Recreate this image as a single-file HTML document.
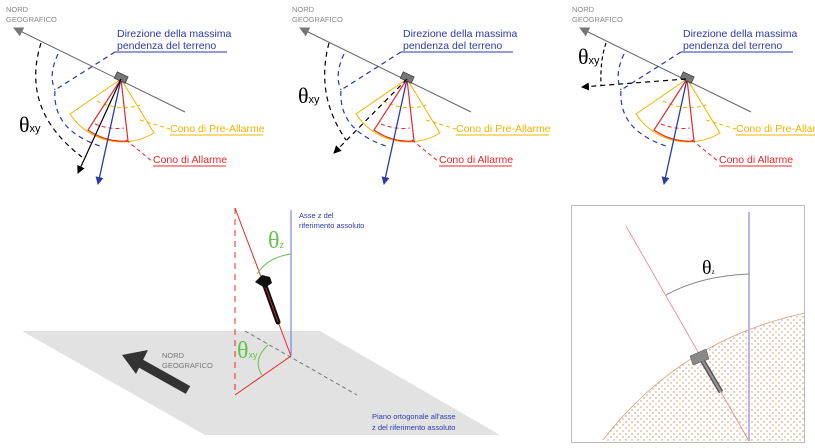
<!DOCTYPE html>
<html><head><meta charset="utf-8"><style>
body{margin:0;background:#fff;}
svg{display:block;font-family:"Liberation Sans",sans-serif;}
</style></head><body>
<svg width="815" height="448" viewBox="0 0 815 448" xmlns="http://www.w3.org/2000/svg">
<defs>
<marker id="ab" markerWidth="8" markerHeight="8" refX="7" refY="4" orient="auto" markerUnits="userSpaceOnUse"><path d="M0,0 L8,4 L0,8 z" fill="#2a3aa8"/></marker>
<marker id="ak" markerWidth="8" markerHeight="8" refX="7" refY="4" orient="auto" markerUnits="userSpaceOnUse"><path d="M0,0 L8,4 L0,8 z" fill="#000"/></marker>
<marker id="ag" markerWidth="10" markerHeight="10" refX="9" refY="5" orient="auto" markerUnits="userSpaceOnUse"><path d="M0,0 L10,5 L0,10 z" fill="#777"/></marker>
<pattern id="dots" width="6" height="6" patternUnits="userSpaceOnUse"><circle cx="2" cy="2" r="0.7" fill="#d08a50"/><circle cx="5" cy="5" r="0.7" fill="#d08a50"/></pattern>
<g id="common">
<text x="6" y="12" font-size="7.5" fill="#888">NORD</text>
<text x="6" y="22" font-size="7.5" fill="#888">GEOGRAFICO</text>
<line x1="185" y1="112" x2="14" y2="28" stroke="#666" stroke-width="1" marker-end="url(#ag)"/>
<text x="117" y="37" font-size="10.5" fill="#2a3aa8">Direzione della massima</text>
<text x="117" y="49" font-size="10.5" fill="#2a3aa8">pendenza del terreno</text>
<line x1="115" y1="52" x2="227" y2="52" stroke="#2a3aa8"/>
<path d="M121,79 L70,114 A62,62 0 0 0 154,133 Z" fill="none" stroke="#f2b400" stroke-width="1"/>
<path d="M97,101 Q120,112 140,105" fill="none" stroke="#f2b400" stroke-dasharray="4,3"/>
<line x1="140" y1="120" x2="170" y2="129" stroke="#f2b400" stroke-dasharray="4,3"/>
<text x="170" y="132" font-size="10.5" fill="#f2b400">Cono di Pre-Allarme</text>
<line x1="170" y1="135" x2="263" y2="135" stroke="#f2b400"/>
<path d="M121,79 L88,130 A62,62 0 0 0 128,141 Z" fill="none" stroke="#e8282a" stroke-width="1.2"/>
<path d="M95,124 Q110,130 124,128" fill="none" stroke="#e8282a" stroke-dasharray="4,3"/>
<line x1="126" y1="140" x2="153" y2="162" stroke="#e8282a" stroke-dasharray="4,3"/>
<text x="153" y="163" font-size="10.5" fill="#e8282a">Cono di Allarme</text>
<line x1="153" y1="166" x2="226" y2="166" stroke="#e8282a"/>
<line x1="121" y1="79" x2="98" y2="184" stroke="#2a3aa8" stroke-width="1.3" marker-end="url(#ab)"/>
<rect x="115" y="74" width="12" height="7" fill="#777" stroke="#333" stroke-width="0.7" transform="rotate(25 121 78)"/>
</g>
</defs>

<use href="#common"/>
<line x1="121" y1="79" x2="78" y2="173" stroke="#000" stroke-width="1.2" marker-end="url(#ak)"/>
<path d="M115,52 L55,90 Q52,130 100,146" fill="none" stroke="#2a3aa8" stroke-dasharray="5,4" stroke-width="1.2"/>
<path d="M58,54 Q48,75 55,90" fill="none" stroke="#2a3aa8" stroke-dasharray="5,4" stroke-width="1.2"/>
<path d="M41,43 Q20,110 82,157" fill="none" stroke="#000" stroke-dasharray="5,4" stroke-width="1.2"/>
<text x="19" y="132" font-size="22" font-family="'Liberation Serif',serif">θ<tspan font-size="11" font-family="'Liberation Sans',sans-serif">xy</tspan></text>

<use href="#common" transform="translate(286,0)"/>
<line x1="407" y1="79" x2="334" y2="153" stroke="#000" stroke-width="1.2" stroke-dasharray="5,4" marker-end="url(#ak)"/>
<path d="M401,52 L341,90 Q338,130 386,146" fill="none" stroke="#2a3aa8" stroke-dasharray="5,4" stroke-width="1.2"/>
<path d="M344,54 Q334,75 341,90" fill="none" stroke="#2a3aa8" stroke-dasharray="5,4" stroke-width="1.2"/>
<path d="M329,43 Q315,95 346,140" fill="none" stroke="#000" stroke-dasharray="5,4" stroke-width="1.2"/>
<text x="298" y="103" font-size="22" font-family="'Liberation Serif',serif">θ<tspan font-size="11" font-family="'Liberation Sans',sans-serif">xy</tspan></text>

<use href="#common" transform="translate(566,0)"/>
<line x1="686" y1="79" x2="582" y2="87" stroke="#000" stroke-width="1.2" stroke-dasharray="5,4" marker-end="url(#ak)"/>
<path d="M681,52 L621,90 Q618,130 666,146" fill="none" stroke="#2a3aa8" stroke-dasharray="5,4" stroke-width="1.2"/>
<path d="M624,54 Q614,75 621,90" fill="none" stroke="#2a3aa8" stroke-dasharray="5,4" stroke-width="1.2"/>
<path d="M606,43 Q600,60 601,86" fill="none" stroke="#000" stroke-dasharray="4,3" stroke-width="1.2"/>
<text x="578" y="64" font-size="22" font-family="'Liberation Serif',serif">θ<tspan font-size="11" font-family="'Liberation Sans',sans-serif">xy</tspan></text>

<polygon points="22,331 320,331 500,435 205,435" fill="#e2e2e2"/>
<line x1="235" y1="208" x2="235" y2="395" stroke="#e8282a" stroke-dasharray="6,5"/>
<line x1="245" y1="331" x2="357" y2="395" stroke="#777" stroke-dasharray="4,3"/>
<line x1="235" y1="208" x2="291" y2="356" stroke="#e8282a"/>
<line x1="235" y1="395" x2="291" y2="356" stroke="#e8282a"/>
<line x1="291" y1="210" x2="291" y2="356" stroke="#7070d0"/>
<path d="M257,274 Q268,257 291,254" fill="none" stroke="#66c24a"/>
<path d="M268,345 Q252,360 262,375" fill="none" stroke="#66c24a"/>
<text x="268" y="248" font-size="24" fill="#66c24a" font-family="'Liberation Serif',serif">θ<tspan font-size="9" font-family="'Liberation Sans',sans-serif">z</tspan></text>
<text x="237" y="358" font-size="24" fill="#66c24a" font-family="'Liberation Serif',serif">θ<tspan font-size="9" font-family="'Liberation Sans',sans-serif">xy</tspan></text>
<line x1="264" y1="283" x2="278" y2="322" stroke="#111" stroke-width="5" stroke-linecap="round"/>
<line x1="264" y1="283" x2="278" y2="322" stroke="#c33" stroke-width="0.8"/>
<polygon points="255,282 262,275 270,277 272,283 265,288" fill="#111"/>
<line x1="188" y1="390" x2="138" y2="362" stroke="#333" stroke-width="9"/>
<polygon points="122,355 148,350 136,374" fill="#333"/>
<text x="162" y="358" font-size="7.5" fill="#777">NORD</text>
<text x="162" y="368" font-size="7.5" fill="#777">GEOGRAFICO</text>
<text x="299" y="218" font-size="7.5" fill="#2a3aa8">Asse z del</text>
<text x="299" y="228" font-size="7.5" fill="#2a3aa8">riferimento assoluto</text>
<text x="372" y="419" font-size="7.5" fill="#2a3aa8">Piano ortogonale all'asse</text>
<text x="372" y="430" font-size="7.5" fill="#2a3aa8">z del riferimento assoluto</text>

<rect x="571.5" y="205.5" width="233" height="237" fill="#fff" stroke="#bbb"/>
<path d="M603,440 Q680,340 805,313 L805,441 L603,441 Z" fill="url(#dots)"/>
<path d="M603,440 Q680,340 805,313" fill="none" stroke="#d8a080" stroke-width="0.8"/>
<line x1="749" y1="212" x2="749" y2="441" stroke="#b8b8e8" stroke-width="2"/>
<line x1="626" y1="226" x2="749" y2="441" stroke="#f08080" stroke-width="0.8"/>
<path d="M666,295 Q700,276 749,274" fill="none" stroke="#888"/>
<text x="702" y="274" font-size="20" font-family="'Liberation Serif',serif">θ<tspan font-size="7">z</tspan></text>
<line x1="701" y1="358" x2="721" y2="392" stroke="#555" stroke-width="5"/>
<line x1="701" y1="358" x2="721" y2="392" stroke="#999" stroke-width="2"/>
<polygon points="690,356 706,349 709,359 693,365" fill="#888" stroke="#555" stroke-width="0.5"/>
</svg>
</body></html>
